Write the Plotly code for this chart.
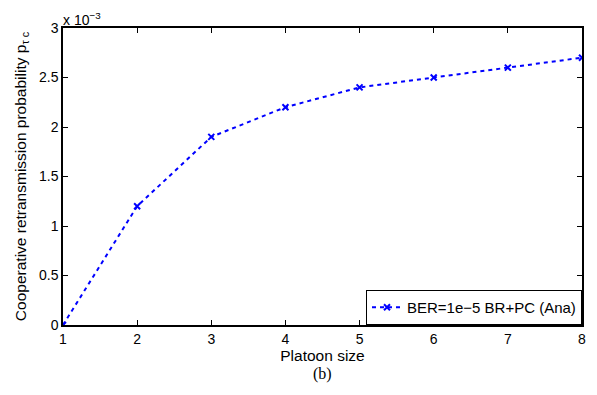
import plotly.graph_objects as go

platoon_size = [1, 2, 3, 4, 5, 6, 7, 8]
prob_e3 = [0.0, 1.2, 1.9, 2.2, 2.4, 2.5, 2.6, 2.7]
series_name = "BER=1e\u22125 BR+PC (Ana)"
y_tick_vals = [0, 0.5, 1, 1.5, 2, 2.5, 3]
y_tick_text = ["0", "0.5", "1", "1.5", "2", "2.5", "3"]
x_tick_vals = [1, 2, 3, 4, 5, 6, 7, 8]

font_family = "Liberation Sans, Arial, sans-serif"
fs = 14
fs_title = 15.5

fig = go.Figure()
fig.add_trace(go.Scatter(
    x=platoon_size, y=prob_e3, name=series_name,
    mode="lines+markers",
    line=dict(color="#0000ff", width=2, dash="4px,4px"),
    marker=dict(symbol="x-thin", size=6, line=dict(color="#0000ff", width=2), color="#0000ff"),
))

axis_common = dict(
    showline=True, linecolor="black", linewidth=1.5, mirror="ticks",
    ticks="inside", ticklen=5, tickcolor="black", tickwidth=1,
    showgrid=False, zeroline=False,
    tickfont=dict(family=font_family, size=fs, color="black"),
)

fig.update_layout(
    width=597, height=395,
    margin=dict(l=63, r=15, t=28, b=70),
    paper_bgcolor="white", plot_bgcolor="white",
    font=dict(family=font_family, size=fs, color="black"),
    xaxis=dict(range=[1, 8], tickvals=x_tick_vals, **axis_common,
               title=dict(text="Platoon size", standoff=0,
                          font=dict(family=font_family, size=fs_title))),
    yaxis=dict(range=[0, 3], tickvals=y_tick_vals, ticktext=y_tick_text, **axis_common,
               title=dict(text="Cooperative retransmission probability p<sub>\u03c4 c</sub>",
                          standoff=9, font=dict(family=font_family, size=fs_title))),
    showlegend=True,
    legend=dict(x=1, y=0, xanchor="right", yanchor="bottom",
                bordercolor="black", borderwidth=1, bgcolor="white",
                font=dict(family=font_family, size=15),
                itemwidth=30, tracegroupgap=0),
)

fig.add_annotation(xref="paper", yref="paper", x=0, y=1, xanchor="left", yanchor="bottom",
                   text="x 10<sup>\u22123</sup>", showarrow=False,
                   font=dict(family=font_family, size=fs), xshift=-2, yshift=-2)
fig.add_annotation(xref="paper", yref="paper", x=0.5, y=0, xanchor="center", yanchor="top",
                   text="(b)", showarrow=False, yshift=-38,
                   font=dict(family="Liberation Serif, Times New Roman, serif", size=16))

fig.write_html("out.html")
